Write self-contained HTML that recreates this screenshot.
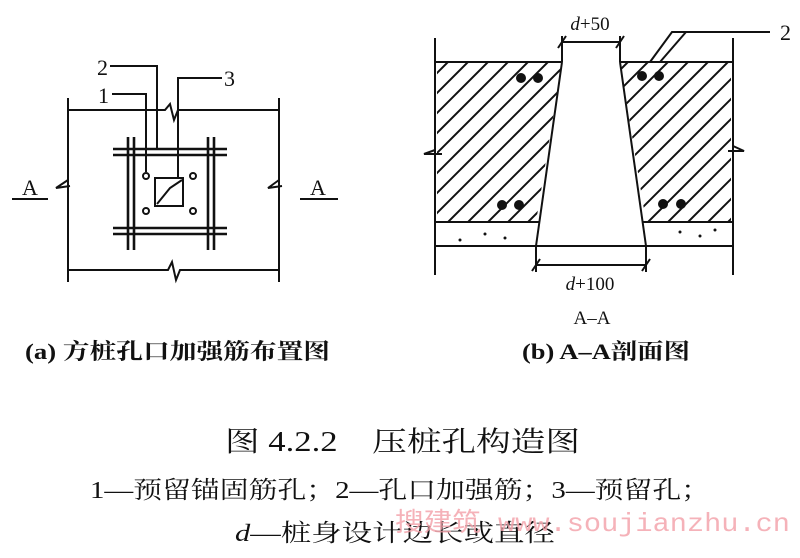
<!DOCTYPE html>
<html><head><meta charset="utf-8"><style>
body{margin:0;background:#fff;}
svg{display:block;}
.t{font-family:"Liberation Serif","Noto Serif CJK SC",serif;fill:#111;}
</style></head><body>
<svg width="800" height="558" viewBox="0 0 800 558" xmlns="http://www.w3.org/2000/svg">
<defs>
<clipPath id="c1"><path d="M437,62 L562,62 L536,222 L437,222 Z"/><path d="M620,62 L731,62 L731,222 L646,222 Z"/></clipPath>
</defs>
<g stroke="#111" stroke-width="2" fill="none">
<line x1="68" y1="98" x2="68" y2="282"/>
<line x1="279" y1="98" x2="279" y2="282"/>
<polyline points="68,110 165,110 170,104 174,120 178,110 279,110"/>
<polyline points="68,270 168,270 172,262 176,280 180,270 279,270"/>
<polyline points="68,180 56,188 70,186"/>
<polyline points="279,180 268,188 282,186"/>
<line x1="12" y1="199" x2="48" y2="199"/>
<line x1="300" y1="199" x2="338" y2="199"/>
<g stroke-width="2.6">
<line x1="113" y1="149" x2="227" y2="149"/><line x1="113" y1="155" x2="227" y2="155"/>
<line x1="113" y1="228" x2="227" y2="228"/><line x1="113" y1="234" x2="227" y2="234"/>
<line x1="128" y1="137" x2="128" y2="250"/><line x1="134" y1="137" x2="134" y2="250"/>
<line x1="208" y1="137" x2="208" y2="250"/><line x1="214" y1="137" x2="214" y2="250"/>
</g>
<rect x="155" y="178" width="28" height="28"/>
<path d="M157,204 L170,188 L182,180"/>
<circle cx="146" cy="176" r="3"/><circle cx="193" cy="176" r="3"/>
<circle cx="146" cy="211" r="3"/><circle cx="193" cy="211" r="3"/>
<polyline points="110,66 157,66 157,150"/>
<polyline points="112,94 146,94 146,172"/>
<polyline points="222,78 178,78 178,178"/>
<line x1="435" y1="38" x2="435" y2="275"/>
<line x1="733" y1="38" x2="733" y2="275"/>
</g>
<g stroke="#111" stroke-width="2" clip-path="url(#c1)">
<line x1="230" y1="240" x2="430" y2="40"/><line x1="250" y1="240" x2="450" y2="40"/><line x1="270" y1="240" x2="470" y2="40"/><line x1="290" y1="240" x2="490" y2="40"/><line x1="310" y1="240" x2="510" y2="40"/><line x1="330" y1="240" x2="530" y2="40"/><line x1="350" y1="240" x2="550" y2="40"/><line x1="370" y1="240" x2="570" y2="40"/><line x1="390" y1="240" x2="590" y2="40"/><line x1="410" y1="240" x2="610" y2="40"/><line x1="430" y1="240" x2="630" y2="40"/><line x1="450" y1="240" x2="650" y2="40"/><line x1="470" y1="240" x2="670" y2="40"/><line x1="490" y1="240" x2="690" y2="40"/><line x1="510" y1="240" x2="710" y2="40"/><line x1="530" y1="240" x2="730" y2="40"/><line x1="550" y1="240" x2="750" y2="40"/><line x1="570" y1="240" x2="770" y2="40"/><line x1="590" y1="240" x2="790" y2="40"/><line x1="610" y1="240" x2="810" y2="40"/><line x1="630" y1="240" x2="830" y2="40"/><line x1="650" y1="240" x2="850" y2="40"/><line x1="670" y1="240" x2="870" y2="40"/><line x1="690" y1="240" x2="890" y2="40"/><line x1="710" y1="240" x2="910" y2="40"/><line x1="730" y1="240" x2="930" y2="40"/>
</g>
<g stroke="#111" stroke-width="2" fill="none">
<line x1="435" y1="62" x2="562" y2="62"/>
<line x1="620" y1="62" x2="733" y2="62"/>
<line x1="562" y1="62" x2="536" y2="246"/>
<line x1="620" y1="62" x2="646" y2="246"/>
<line x1="435" y1="222" x2="540" y2="222"/>
<line x1="643" y1="222" x2="733" y2="222"/>
<line x1="435" y1="246" x2="733" y2="246"/>
<line x1="562" y1="42" x2="620" y2="42"/>
<line x1="558" y1="48" x2="566" y2="36"/><line x1="616" y1="48" x2="624" y2="36"/>
<line x1="562" y1="36" x2="562" y2="62"/><line x1="620" y1="36" x2="620" y2="62"/>
<line x1="536" y1="265" x2="646" y2="265"/>
<line x1="532" y1="271" x2="540" y2="259"/><line x1="642" y1="271" x2="650" y2="259"/>
<line x1="536" y1="246" x2="536" y2="272"/><line x1="646" y1="246" x2="646" y2="272"/>
<polyline points="650,62 672,32 770,32"/>
<line x1="660" y1="62" x2="686" y2="32"/>
<polyline points="435,150 424,154 442,154"/>
<polyline points="733,146 744,151 728,151"/>
</g>
<g fill="#111">
<circle cx="521" cy="78" r="5"/><circle cx="538" cy="78" r="5"/>
<circle cx="642" cy="76" r="5"/><circle cx="659" cy="76" r="5"/>
<circle cx="502" cy="205" r="5"/><circle cx="519" cy="205" r="5"/>
<circle cx="663" cy="204" r="5"/><circle cx="681" cy="204" r="5"/>
<circle cx="460" cy="240" r="1.5"/><circle cx="485" cy="234" r="1.5"/><circle cx="505" cy="238" r="1.5"/>
<circle cx="680" cy="232" r="1.5"/><circle cx="700" cy="236" r="1.5"/><circle cx="715" cy="230" r="1.5"/>
</g>
<g class="t">
<text x="97" y="75" font-size="22">2</text>
<text x="98" y="103" font-size="22">1</text>
<text x="224" y="86" font-size="22">3</text>
<text x="22" y="195" font-size="22">A</text>
<text x="310" y="195" font-size="22">A</text>
<text x="590" y="30" font-size="19" text-anchor="middle"><tspan font-style="italic">d</tspan>+50</text>
<text x="780" y="40" font-size="22">2</text>
<text x="590" y="290" font-size="19" text-anchor="middle"><tspan font-style="italic">d</tspan>+100</text>
<text x="592" y="324" font-size="19" text-anchor="middle">A–A</text>
<text x="25" y="359" font-size="22" font-weight="bold" textLength="305" lengthAdjust="spacingAndGlyphs">(a) 方桩孔口加强筋布置图</text>
<text x="522" y="359" font-size="22" font-weight="bold" textLength="168" lengthAdjust="spacingAndGlyphs">(b) A–A剖面图</text>
<text x="225" y="451" font-size="28" textLength="355" lengthAdjust="spacingAndGlyphs">图 4.2.2　压桩孔构造图</text>
<text x="90" y="498" font-size="24" textLength="620" lengthAdjust="spacingAndGlyphs">1—预留锚固筋孔；2—孔口加强筋；3—预留孔；</text>
<text x="235" y="541" font-size="24" textLength="320" lengthAdjust="spacingAndGlyphs"><tspan font-style="italic">d</tspan>—桩身设计边长或直径</text>
</g>
<text x="395" y="531" font-size="26" fill="#f3a0a8" opacity="0.8" textLength="395" lengthAdjust="spacingAndGlyphs" font-family="Liberation Mono,'Noto Sans CJK SC',monospace">搜建筑 www.soujianzhu.cn</text>
</svg>
</body></html>
